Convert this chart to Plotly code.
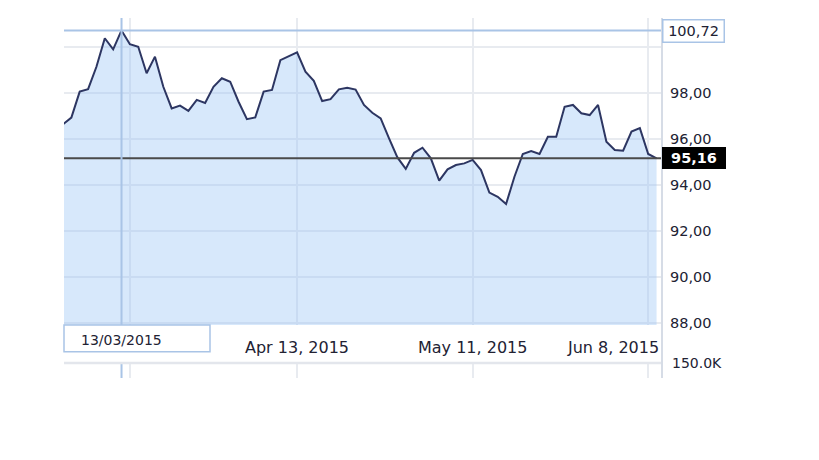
import plotly.graph_objects as go

# ---- data (one value per trading session) ----
prices = [
    96.64, 96.93, 98.06, 98.17, 99.14, 100.38, 99.90, 100.72, 100.12, 100.01,
    98.86, 99.58, 98.27, 97.33, 97.45, 97.22, 97.70, 97.57, 98.27, 98.64,
    98.49, 97.62, 96.86, 96.94, 98.06, 98.13, 99.43, 99.61, 99.77, 98.93,
    98.53, 97.65, 97.73, 98.16, 98.23, 98.15, 97.48, 97.14, 96.90, 96.03,
    95.20, 94.70, 95.40, 95.62, 95.16, 94.19, 94.68, 94.87, 94.94, 95.09,
    94.65, 93.67, 93.49, 93.17, 94.36, 95.35, 95.48, 95.35, 96.10, 96.10,
    97.40, 97.48, 97.12, 97.04, 97.48, 95.88, 95.52, 95.49, 96.32, 96.47,
    95.35, 95.16,
]
sessions = list(range(len(prices)))

grid_sessions = [8, 28, 49, 70]            # weekly grid (Mar 16, Apr 13, May 11, Jun 8)
tick_sessions = [28, 49, 70]
tick_labels = ["Apr 13, 2015", "May 11, 2015", "Jun 8, 2015"]

y_ticks = [88, 90, 92, 94, 96, 98, 100]
y_tick_labels = ["88,00", "90,00", "92,00", "94,00", "96,00", "98,00", ""]

cursor_session = 7
cursor_label = "13/03/2015"
max_value = 100.72
max_label = "100,72"
last_value = 95.16
last_label = "95,16"

volume_tick = [150000]
volume_tick_label = ["150.0K"]

# ---- figure ----
FONT = "DejaVu Sans"
TXT = "#222233"
GRID = "#e8ebf0"
BLUE = "#a9c4e6"

fig = go.Figure()
fig.add_trace(go.Scatter(
    x=sessions, y=prices, mode="lines",
    line=dict(color="#2d3662", width=2),
    fill="tozeroy", fillcolor="rgba(150,195,245,0.38)",
    hoverinfo="skip", xaxis="x", yaxis="y", showlegend=False,
))
fig.add_trace(go.Scatter(x=[], y=[], xaxis="x2", yaxis="y2", showlegend=False))

main_bottom = (378 - 325) / 360
low_top = (378 - 363) / 360

axis_common = dict(
    range=[0.12, 71.65], tickmode="array", tickvals=grid_sessions,
    showticklabels=False, showgrid=True, gridcolor=GRID, gridwidth=2,
    zeroline=False, showline=False, ticks="", automargin=False,
)
# page body adds an 8px offset, so the figure is drawn 8px smaller
fig.update_layout(
    template="none",
    width=811, height=452, autosize=False,
    margin=dict(l=56, r=157, t=10, b=82, pad=0, autoexpand=False),
    paper_bgcolor="white", plot_bgcolor="white",
    showlegend=False,
    font=dict(family=FONT, color=TXT, size=14),
    xaxis=dict(domain=[0, 1], anchor="y", **axis_common),
    xaxis2=dict(domain=[0, 1], anchor="y2", matches="x", **axis_common),
    yaxis=dict(
        domain=[main_bottom, 1], anchor="x", side="right",
        range=[87.913, 101.261], tickmode="array",
        tickvals=y_ticks, ticktext=y_tick_labels,
        showgrid=True, gridcolor=GRID, gridwidth=2, zeroline=False,
        showline=False, ticks="", ticklabelstandoff=7, automargin=False,
        tickfont=dict(family=FONT, size=14.5, color=TXT),
    ),
    yaxis2=dict(
        domain=[0, low_top], anchor="x2", side="right",
        range=[0, 152000], tickmode="array",
        tickvals=volume_tick, ticktext=volume_tick_label,
        showgrid=True, gridcolor="#e3e6ec", gridwidth=2.5, zeroline=False,
        showline=False, ticks="", ticklabelstandoff=9, automargin=False,
        tickfont=dict(family=FONT, size=14, color=TXT),
    ),
)

shapes = [
    # last price line
    dict(type="line", xref="x domain", x0=0, x1=1, yref="y", y0=last_value, y1=last_value,
         line=dict(color="#4a4a4a", width=2)),
    # max crosshair line
    dict(type="line", xref="x domain", x0=0, x1=1, yref="y", y0=max_value, y1=max_value,
         line=dict(color=BLUE, width=2)),
    # vertical cursor in both panels
    dict(type="line", xref="x", x0=cursor_session, x1=cursor_session, yref="y domain", y0=0, y1=1,
         line=dict(color=BLUE, width=2)),
    dict(type="line", xref="x", x0=cursor_session, x1=cursor_session, yref="y2 domain", y0=0, y1=1,
         line=dict(color=BLUE, width=2)),
    # volume panel top rule
    dict(type="line", xref="x domain", x0=0, x1=1, yref="y2 domain", y0=1, y1=1,
         line=dict(color="#e3e6ec", width=2.5)),
    # right border of the chart
    dict(type="line", xref="paper", x0=1, x1=1, yref="paper", y0=0, y1=1,
         line=dict(color="#d6dce6", width=2)),
    # date box
    dict(type="rect", xref="paper", x0=0, x1=(210 - 64) / 598,
         yref="paper", y0=(378 - 351.7) / 360, y1=main_bottom,
         line=dict(color=BLUE, width=1.5), fillcolor="white", layer="above"),
]
fig.update_layout(shapes=shapes)

label_y = (378 - 347) / 360
ann = []
for s, t in zip(tick_sessions, tick_labels):
    last = s == tick_sessions[-1]
    ann.append(dict(
        x=s, xref="x", y=label_y, yref="paper",
        text=t, showarrow=False,
        xanchor="right" if last else "center", xshift=13 if last else 0,
        yanchor="middle", font=dict(family=FONT, size=16, color=TXT),
    ))
ann.append(dict(
    x=cursor_session, xref="x", y=(378 - 340) / 360, yref="paper",
    text=cursor_label, showarrow=False, xanchor="center", yanchor="middle",
    font=dict(family=FONT, size=14, color=TXT),
))
ann.append(dict(
    x=0.9997, xref="paper", y=max_value, yref="y", text=max_label, showarrow=False,
    xanchor="left", yanchor="middle", yshift=-1,
    bgcolor="white", bordercolor=BLUE, borderwidth=1.5, borderpad=1,
    width=58, height=19,
    font=dict(family=FONT, size=14.5, color=TXT),
))
ann.append(dict(
    x=0.9997, xref="paper", y=last_value, yref="y", text="<b>" + last_label + "</b>",
    showarrow=False, xanchor="left", yanchor="middle",
    bgcolor="black", bordercolor="black", borderwidth=1, borderpad=1,
    width=60, height=18,
    font=dict(family=FONT, size=14.5, color="white"),
))
fig.update_layout(annotations=ann)

fig.write_html("out.html")
